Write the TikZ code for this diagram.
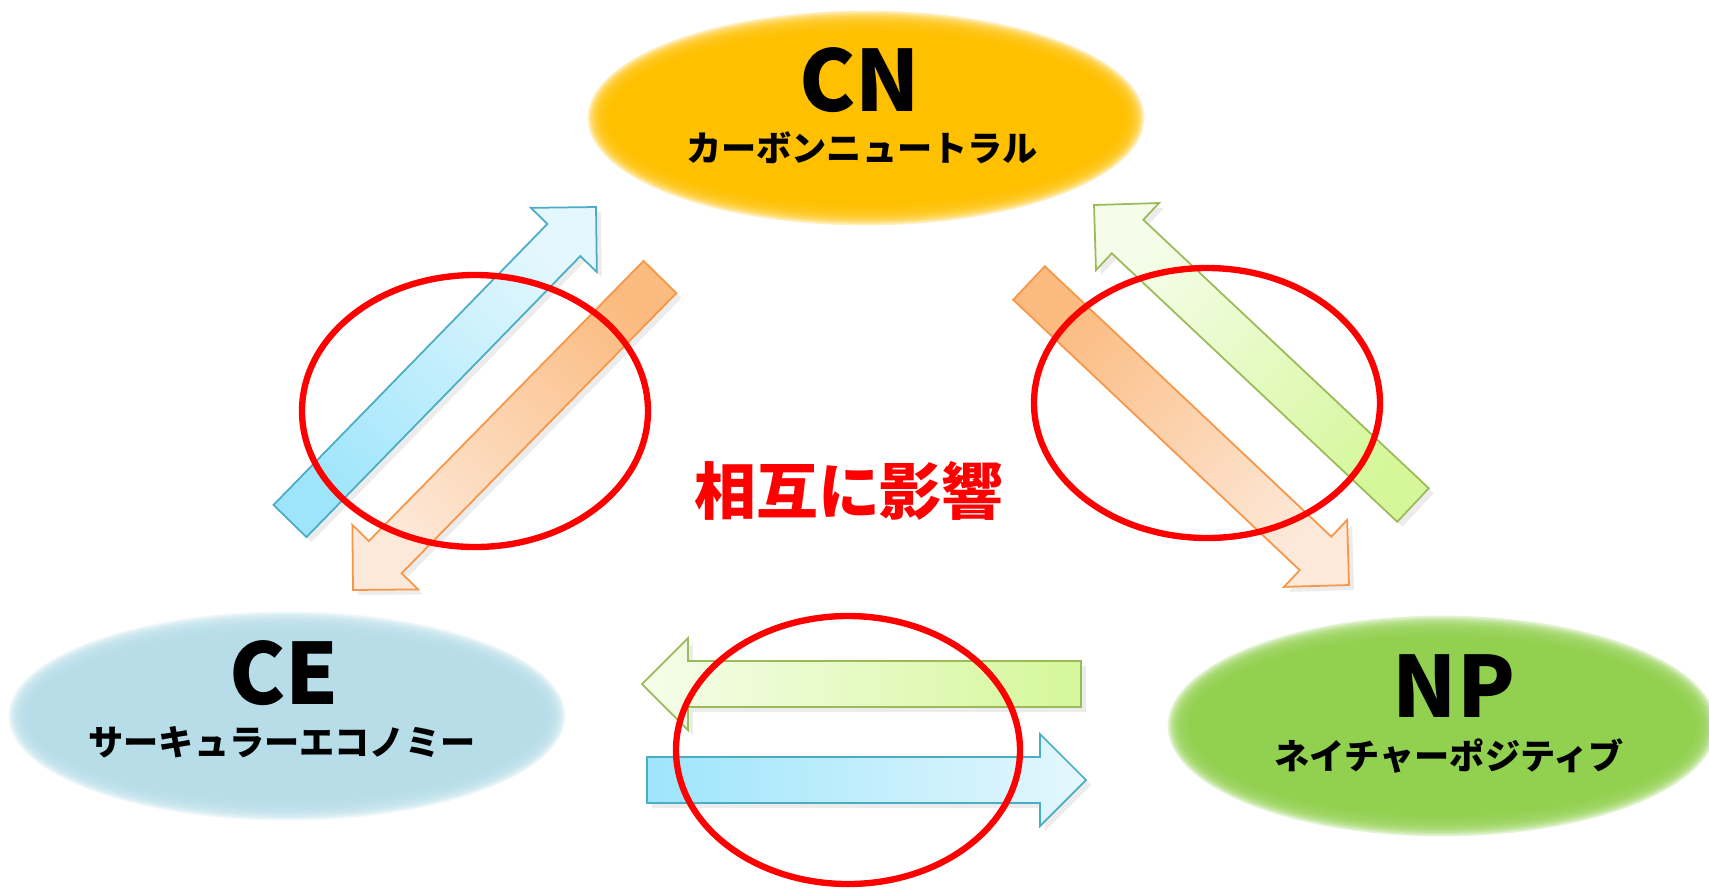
\documentclass[tikz,border=0pt]{standalone}
\usepackage{fontspec}
\usepackage{xcolor}
\usepackage{tikz}
\usetikzlibrary{shadows}
\usetikzlibrary{positioning}
\usetikzlibrary{calc}

\newfontfamily\jpfont{Noto Sans CJK JP}

\definecolor{cngold}{HTML}{FFC000}
\definecolor{ceblue}{HTML}{B7DDE8}
\definecolor{npgreen}{HTML}{92D050}
\definecolor{bluebd}{HTML}{4BACC6}
\definecolor{bluedk}{HTML}{9EE5FB}
\definecolor{bluelt}{HTML}{E4F7FD}
\definecolor{orangebd}{HTML}{F79646}
\definecolor{orangedk}{HTML}{FBBB80}
\definecolor{orangelt}{HTML}{FDE9DA}
\definecolor{greenbd}{HTML}{9BBB59}
\definecolor{greendk}{HTML}{D5F79A}
\definecolor{greenlt}{HTML}{F5FDEA}

\tikzstyle{title} = [font=\jpfont\bfseries\fontsize{24}{28}\selectfont, inner sep=0pt]
\tikzstyle{subtitle} = [font=\jpfont\bfseries\fontsize{10}{12}\selectfont, inner sep=0pt]
\tikzstyle{mutual} = [font=\jpfont\bfseries\fontsize{17.6}{20}\selectfont, text=red, inner sep=0pt]
\tikzstyle{ring} = [draw=red, line width=1.8pt]
\tikzset{arrowshadow/.style={drop shadow={opacity=0.15, shadow xshift=0.5mm, shadow yshift=-0.5mm}}}
\tikzset{bluearrow/.style={draw=bluebd, line width=0.5pt, arrowshadow, top color=bluelt, bottom color=bluedk, shading angle=#1}}
\tikzset{orangearrow/.style={draw=orangebd, line width=0.5pt, arrowshadow, top color=orangelt, bottom color=orangedk, shading angle=#1}}
\tikzset{greenarrow/.style={draw=greenbd, line width=0.5pt, arrowshadow, top color=greenlt, bottom color=greendk, shading angle=#1}}

% block arrow from #1 (tail) to #2 (tip)
\newcommand{\blockarrow}[3]{%
  \coordinate (hb) at ($(#2)!0.46cm!(#1)$);
  \path[#3] ($(#1)!0.23cm!90:(#2)$) -- ($(hb)!0.23cm!90:(#2)$) -- ($(hb)!0.46cm!90:(#2)$) -- (#2)
     -- ($(hb)!0.46cm!-90:(#2)$) -- ($(hb)!0.23cm!-90:(#2)$) -- ($(#1)!0.23cm!-90:(#2)$) -- cycle;
}

% soft edged ellipse
\newcommand{\softblob}[4]{%
  \fill[#4] (#1) ellipse [x radius=#2-10, y radius=#3-10];
  \foreach \k in {1,...,12}
     \fill[#4, opacity=0.25] (#1) ellipse [x radius=#2-10+1.7*\k, y radius=#3-10+1.7*\k];
}

\begin{document}
\begin{tikzpicture}[x=0.01cm, y=-0.01cm]

   \useasboundingbox (0,0) rectangle (1709,887);

   \coordinate (cnc) at (866,118);
   \coordinate (cec) at (287,716);
   \coordinate (npc) at (1442,726);

   \softblob{cnc}{268}{97}{cngold}
   \softblob{cec}{268}{94}{ceblue}
   \softblob{npc}{264}{100}{npgreen}

   % arrow ends
   \foreach \name/\x/\y in {cecnA/290/521, cecnB/596/207, cnceA/660/277, cnceB/353/590,
                            cnnpA/1029/283, cnnpB/1349/585, npcnA/1413/505, npcnB/1094/205,
                            npceA/1081/684, npceB/642/684, cenpA/647/780, cenpB/1086/780}
      \coordinate (\name) at (\x,\y);

   \blockarrow{cecnA}{cecnB}{bluearrow=-44}
   \blockarrow{cnceA}{cnceB}{orangearrow=136}
   \blockarrow{cnnpA}{cnnpB}{orangearrow=-133}
   \blockarrow{npcnA}{npcnB}{greenarrow=47}
   \blockarrow{npceA}{npceB}{greenarrow=90}
   \blockarrow{cenpA}{cenpB}{bluearrow=-90}

   \draw[ring] (475,411) ellipse [x radius=173, y radius=136];
   \draw[ring] (1207,403) ellipse [x radius=173, y radius=135];
   \draw[ring] (848,750) ellipse [x radius=172, y radius=134];

   \node[title] (cn) at (860,80) {CN};
   \node[subtitle] (cnsub) at (862,148) {カーボンニュートラル};
   \node[title] (ce) at (284,673) {CE};
   \node[subtitle] (cesub) at (282,742) {サーキュラーエコノミー};
   \node[title] (np) at (1454,686) {NP};
   \node[subtitle] (npsub) at (1449,756) {ネイチャーポジティブ};
   \node[mutual] (center) at (849,491) {相互に影響};

\end{tikzpicture}
\end{document}
